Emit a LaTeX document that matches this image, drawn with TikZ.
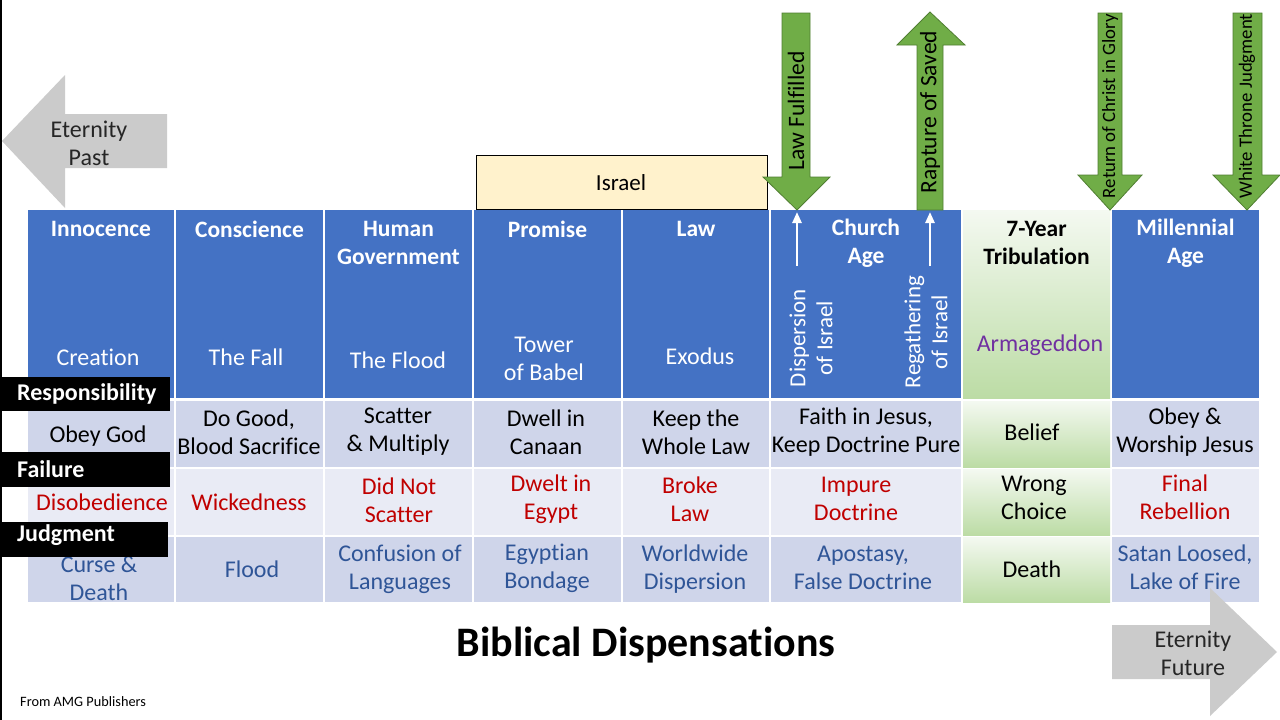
\documentclass[tikz,border=0pt]{standalone}
\usepackage{fontspec}
\setmainfont[Ligatures=NoCommon]{Carlito}
\usetikzlibrary{arrows.meta}
\definecolor{hblue}{HTML}{4472C4}
\definecolor{rowA}{HTML}{CFD5EA}
\definecolor{rowB}{HTML}{E9EBF5}
\definecolor{tribtop}{HTML}{F4F9F1}
\definecolor{tribbot}{HTML}{BCDCA5}
\definecolor{fred}{HTML}{C00000}
\definecolor{jblue}{HTML}{2F5597}
\definecolor{purp}{HTML}{7030A0}
\definecolor{ggreen}{HTML}{70AD47}
\definecolor{gborder}{HTML}{507E32}
\definecolor{agray}{HTML}{CBCBCB}
\definecolor{gtext}{HTML}{262626}
\definecolor{isr}{HTML}{FFF2CC}
\tikzset{
  hdrtxt/.style={font=\fontsize{23.5}{28}\selectfont\bfseries, text=white, align=center, inner sep=0pt},
  subtxt/.style={font=\fontsize{24}{28}\selectfont, text=white, align=center, inner sep=0pt},
  celltxt/.style={font=\fontsize{24}{28}\selectfont, align=center, inner sep=0pt},
  resptxt/.style={celltxt, text=black},
  failtxt/.style={celltxt, text=fred},
  judgtxt/.style={celltxt, text=jblue},
  labbox/.style={fill=black},
  labtxt/.style={font=\fontsize{24}{28}\selectfont\bfseries, text=white, anchor=west, inner sep=0pt},
  greenarrow/.style={fill=ggreen, draw=gborder, line width=0.8pt},
  greentxt/.style={rotate=90, font=\fontsize{23.5}{26}\selectfont, inner sep=0pt, text=black},
  greentxtsmall/.style={rotate=90, font=\fontsize{18.8}{20}\selectfont, inner sep=0pt, text=black},
  grayarrow/.style={fill=agray},
  graytxt/.style={font=\fontsize{24}{28}\selectfont, text=gtext, align=center, inner sep=0pt},
  tribcell/.style={top color=tribtop, bottom color=tribbot},
  whitearrow/.style={draw=white, line width=2.4pt, -{Triangle[width=9pt,length=11pt]}},
  rottxt/.style={rotate=90, font=\fontsize{23}{27}\selectfont, text=white, align=center, inner sep=0pt}
}
\begin{document}
\begin{tikzpicture}[x=1pt,y=-1pt]
\useasboundingbox (0,0) rectangle (1280,720);
\fill[white] (0,0) rectangle (1280,720);
\fill[black] (0,0) rectangle (2,720);

% table cells
\foreach \l/\r in {28/174,176/323,325/472,474/621,623/769,771/961,1112/1259}{
  \fill[hblue] (\l,210) rectangle (\r,398);
  \fill[rowA] (\l,401) rectangle (\r,467);
  \fill[rowB] (\l,469) rectangle (\r,535);
  \fill[rowA] (\l,537) rectangle (\r,602);
}
\shade[tribcell] (963,210) rectangle (1110,398);
\shade[tribcell] (963,401) rectangle (1110,467);
\shade[tribcell] (963,469) rectangle (1110,535);
\shade[tribcell] (963,537) rectangle (1110,602);

% header titles
\node[hdrtxt] (h1) at (101,229) {Innocence};
\node[hdrtxt] (h2) at (249.5,229) {Conscience};
\node[hdrtxt] (h3) at (398.5,243) {Human\\Government};
\node[hdrtxt] (h4) at (547.5,229) {Promise};
\node[hdrtxt] (h5) at (696,229) {Law};
\node[hdrtxt] (h6) at (866,243) {Church\\Age};
\node[hdrtxt, text=black] (h7) at (1036.5,243) {7-Year\\Tribulation};
\node[hdrtxt] (h8) at (1185.5,243) {Millennial\\Age};

% header subtitles
\node[subtxt] (s1) at (98,357) {Creation};
\node[subtxt] (s2) at (246,357) {The Fall};
\node[subtxt] (s3) at (398,360) {The Flood};
\node[subtxt] (s4) at (544,359) {Tower\\of Babel};
\node[subtxt] (s5) at (700,356) {Exodus};
\node[subtxt, text=purp] (s7) at (1040,345) {Armageddon};

% church age inner arrows and texts
\coordinate (da) at (797,266);
\coordinate (db) at (797,212);
\coordinate (ra) at (930,266);
\coordinate (rb) at (930,212);
\draw[whitearrow] (da) -- (db);
\draw[whitearrow] (ra) -- (rb);
\node[rottxt] (disp) at (811,338) {Dispersion\\of Israel};
\node[rottxt] (regat) at (926,332) {Regathering\\of Israel};

% responsibility row
\node[resptxt] (r1) at (98,436) {Obey God};
\node[resptxt] (r2) at (249,432) {Do Good,\\Blood Sacrifice};
\node[resptxt] (r3) at (398,432) {Scatter\\\& Multiply};
\node[resptxt] (r4) at (546,432) {Dwell in\\Canaan};
\node[resptxt] (r5) at (696,432) {Keep the\\Whole Law};
\node[resptxt] (r6) at (866,432) {Faith in Jesus,\\Keep Doctrine Pure};
\node[resptxt] (r7) at (1032,432) {Belief};
\node[resptxt] (r8) at (1185,432) {Obey \&\\Worship Jesus};

% failure row
\node[failtxt] (f1) at (102,502) {Disobedience};
\node[failtxt] (f2) at (249,502) {Wickedness};
\node[failtxt] (f3) at (399,500) {Did Not\\Scatter};
\node[failtxt] (f4) at (551,499) {Dwelt in\\Egypt};
\node[failtxt] (f5) at (690,499) {Broke\\Law};
\node[failtxt] (f6) at (856,499) {Impure\\Doctrine};
\node[failtxt, text=black] (f7) at (1034,498) {Wrong\\Choice};
\node[failtxt] (f8) at (1185,497) {Final\\Rebellion};

% judgment row
\node[judgtxt] (j1) at (99,578) {Curse \&\\Death};
\node[judgtxt] (j2) at (252,569) {Flood};
\node[judgtxt] (j3) at (400,569) {Confusion of\\Languages};
\node[judgtxt] (j4) at (547,568) {Egyptian\\Bondage};
\node[judgtxt] (j5) at (695,569) {Worldwide\\Dispersion};
\node[judgtxt] (j6) at (863,568) {Apostasy,\\False Doctrine};
\node[judgtxt, text=black] (j7) at (1032,569) {Death};
\node[judgtxt] (j8) at (1185,567) {Satan Loosed,\\Lake of Fire};

% Israel box
\draw[fill=isr, draw=black, line width=0.8pt] (476,155) rectangle (767,209);
\node[font=\fontsize{23}{26}\selectfont, inner sep=0pt] (israel) at (621,183) {Israel};

% green arrows
\draw[greenarrow] (782,13) -- (810,13) -- (810,177) -- (830,177) -- (797,210) -- (763,177) -- (782,177) -- cycle;
\node[greentxt] (lawf) at (796,111) {Law Fulfilled};
\draw[greenarrow] (917,210) -- (917,45) -- (897,45) -- (930,12) -- (965,45) -- (943,45) -- (943,210) -- cycle;
\node[greentxt] (rapt) at (930,112) {Rapture of Saved};
\draw[greenarrow] (1098,13) -- (1122,13) -- (1122,175) -- (1142,175) -- (1110,210) -- (1078,175) -- (1098,175) -- cycle;
\node[greentxtsmall] (retn) at (1110,106) {Return of Christ in Glory};
\draw[greenarrow] (1233,13) -- (1262,13) -- (1262,175) -- (1280,175) -- (1247,210) -- (1213,175) -- (1233,175) -- cycle;
\node[greentxtsmall] (wtj) at (1247,106) {White Throne Judgment};

% left labels
\fill[labbox] (0,377) rectangle (170,411);
\node[labtxt] (lresp) at (17,394) {Responsibility};
\fill[labbox] (0,452) rectangle (170,487);
\node[labtxt] (lfail) at (17,469) {Failure};
\fill[labbox] (0,522) rectangle (168,557);
\node[labtxt] (ljudg) at (17,535) {Judgment};

% gray arrows
\fill[grayarrow] (2,141) -- (65,75) -- (65,114) -- (167,114) -- (167,168) -- (65,168) -- (65,208) -- cycle;
\node[graytxt] (epast) at (89,143) {Eternity\\Past};
\fill[grayarrow] (1112,625) -- (1210,625) -- (1210,588) -- (1277,652) -- (1210,716) -- (1210,679) -- (1112,679) -- cycle;
\node[graytxt] (efut) at (1193,653) {Eternity\\Future};

% title and credit
\node[font=\fontsize{42}{48}\selectfont\bfseries, inner sep=0pt] (title) at (646,645) {Biblical Dispensations};
\node[font=\fontsize{14.3}{16}\selectfont, anchor=west, inner sep=0pt] (credit) at (20,702) {From AMG Publishers};
\end{tikzpicture}
\end{document}
